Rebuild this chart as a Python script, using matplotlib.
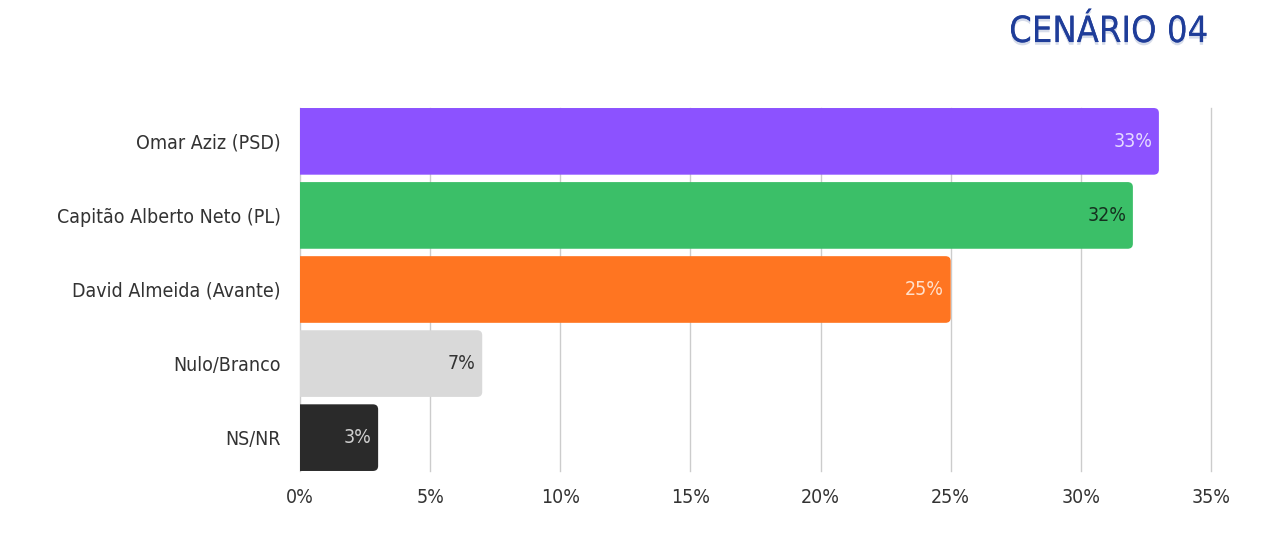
import matplotlib
matplotlib.use('Agg')
import matplotlib.pyplot as plt
from matplotlib.patches import FancyBboxPatch
import matplotlib.patheffects as pe

# data
candidates = ['Omar Aziz (PSD)', 'Capitão Alberto Neto (PL)', 'David Almeida (Avante)',
              'Nulo/Branco', 'NS/NR']
values = [33, 32, 25, 7, 3]
bar_colors = ['#8C52FF', '#3BBF68', '#FF7521', '#D9D9D9', '#2A2A2A']
label_colors = ['#E6DAFF', '#15301F', '#FFE0CC', '#333333', '#D0D0D0']
xticks = [0, 5, 10, 15, 20, 25, 30, 35]

plt.rcParams['font.family'] = ['DejaVu Sans']
plt.rcParams['font.stretch'] = 'condensed'
text_color = '#333333'

fig = plt.figure(figsize=(12.79, 5.39), dpi=100)
ax = fig.add_axes([0.2346, 0.1262, 0.7122, 0.6734])

ypos = list(range(len(values)))
bars = ax.barh(ypos, values, height=0.9)

ax.set_xlim(0, 35)
ax.set_ylim(len(values) - 0.55, -0.45)

# replace plain bars by bars with rounded right corners
for b, c in zip(bars, bar_colors):
    x0, y0, w, h = b.get_x(), b.get_y(), b.get_width(), b.get_height()
    b.remove()
    r = FancyBboxPatch((x0 - 1, y0), w + 1, h,
                       boxstyle='round,pad=0,rounding_size=0.2',
                       mutation_aspect=0.34, facecolor=c, edgecolor='none',
                       zorder=2, clip_on=True)
    ax.add_patch(r)

for y, v, lc in zip(ypos, values, label_colors):
    ax.text(v - 0.25, y, f'{v}%', ha='right', va='center', fontsize=14,
            color=lc, zorder=3)

ax.set_yticks(ypos)
ax.set_yticklabels(candidates, fontsize=14, color=text_color)
ax.set_xticks(xticks)
ax.set_xticklabels([f'{t}%' for t in xticks], fontsize=14, color=text_color)
ax.tick_params(axis='both', length=0)
ax.tick_params(axis='y', pad=14)
ax.tick_params(axis='x', pad=12)

ax.grid(axis='x', color='#CCCCCC', linewidth=1)
ax.set_axisbelow(True)
for gl in ax.get_xgridlines():
    gl.set_clip_on(False)
for s in ax.spines.values():
    s.set_visible(False)

fig.text(0.945, 0.922, 'CENÁRIO 04', ha='right', va='baseline', fontsize=26,
         color='#1F3D99',
         path_effects=[pe.withSimplePatchShadow(offset=(0, -2), shadow_rgbFace='#9AA8CC', alpha=0.4),
                       pe.Normal()])

fig.savefig('out.png', dpi=100, facecolor='white')
